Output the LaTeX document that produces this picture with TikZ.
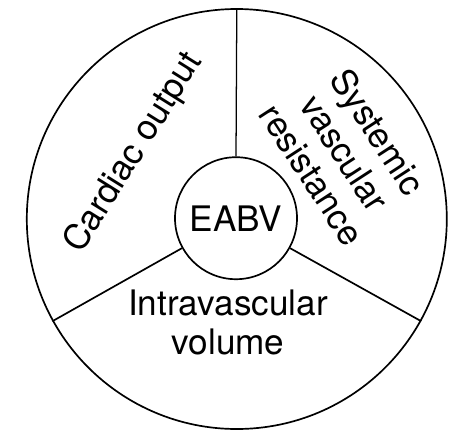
\documentclass[tikz,border=0pt]{standalone}
\usepackage{fontspec}
\setmainfont{TeX Gyre Heros}
\usepackage{tikz}
\usetikzlibrary{shapes,shapes.geometric}
\tikzset{>=stealth}
\tikzset{sector/.style={align=center, font=\fontsize{25}{28}\selectfont}}
\tikzset{ring/.style={draw, circle, line width=1.2pt, inner sep=0pt}}

\begin{document}
\begin{tikzpicture}
      \useasboundingbox (0,0) rectangle (11.3,10.725);
      \node[ring, minimum size=10.5cm] (wheel) at (5.92,5.25) {};
      \node[ring, minimum size=3.05cm, font=\fontsize{25}{28}\selectfont] (eabv) at (5.9,5.27) {EABV};
      \draw[line width=0.9pt] (eabv.90) -- (wheel.90) ;
      \draw[line width=1.2pt] (eabv.209) -- (wheel.209) ;
      \draw[line width=1.2pt] (eabv.331) -- (wheel.331) ;
      \node[sector, rotate=58] (cardiac) at (3.35,6.9) {Cardiac output};
      \node[sector, rotate=-57] (svr) at (8.63,6.9) {Systemic\\vascular\\resistance};
      \node[sector] (ivv) at (5.7,2.66) {Intravascular\\volume};
\end{tikzpicture}
\end{document}
